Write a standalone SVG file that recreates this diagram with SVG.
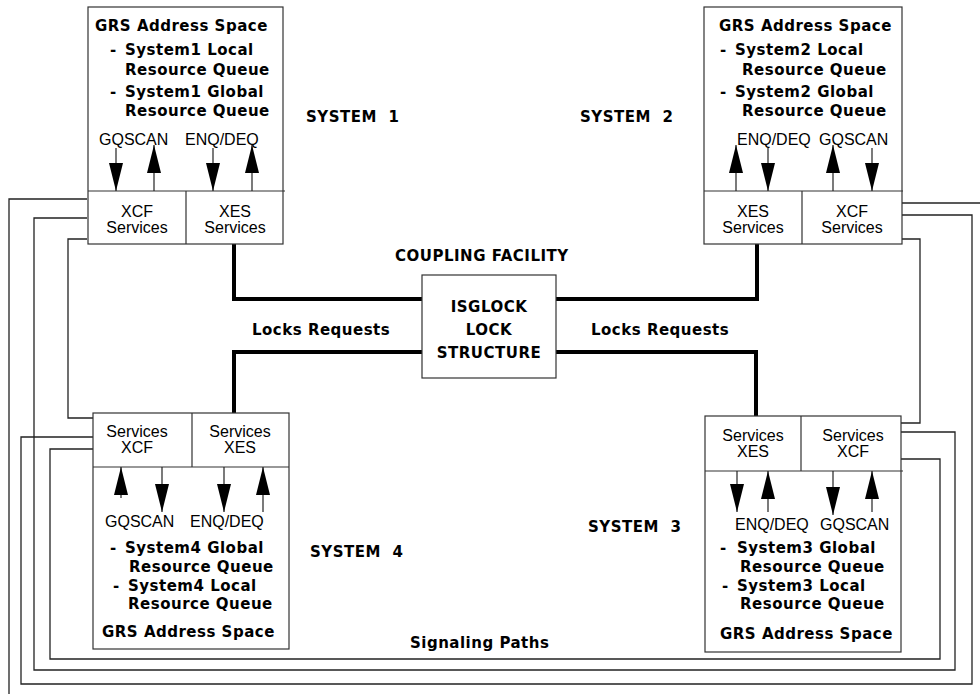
<svg xmlns="http://www.w3.org/2000/svg" width="980" height="694" viewBox="0 0 980 694">
<style>
.box{fill:#fff;stroke:#333;stroke-width:1.2}
.dv{stroke:#333;stroke-width:1.2;fill:none}
.b{font-family:"DejaVu Sans",sans-serif;font-weight:bold;font-size:15px;letter-spacing:0.5px;fill:#000}
.sy{word-spacing:6px}
.r{font-family:"Liberation Sans",Arial,sans-serif;font-size:16px;fill:#000}
.c{text-anchor:middle}
.arr{stroke:#222;stroke-width:1.2;fill:none;marker-end:url(#ah)}
.thick{stroke:#000;stroke-width:4;fill:none;stroke-linecap:round}
.sig{stroke:#222;stroke-width:1.3;fill:none}
</style>
<defs>
<marker id="ah" viewBox="0 0 28 14" markerWidth="28" markerHeight="14" refX="28" refY="7" orient="auto" markerUnits="userSpaceOnUse"><path d="M0,0 L28,7 L0,14 z" fill="#000"/></marker>
</defs>
<rect width="980" height="694" fill="#fff"/>
<g id="connectors">
<path class="sig" d="M87,199 H9 V694"/>
<path class="sig" d="M902,203 H980"/>
<path class="sig" d="M87,218 H34 V670 H955 V432 H901"/>
<path class="sig" d="M87,239 H68 V418 H93"/>
<path class="sig" d="M902,239 H920 V423 H901"/>
<path class="sig" d="M902,215 H972 V684 H21 V437 H93"/>
<path class="sig" d="M93,449 H50 V659 H940 V459 H901"/>
<path class="thick" d="M234,244 V299 H422"/>
<path class="thick" d="M757,244 V299 H556"/>
<path class="thick" d="M234,413 V352 H422"/>
<path class="thick" d="M756,416 V352 H556"/>
</g>
<g id="sys1">
<rect class="box" x="88" y="7" width="195" height="237"/>
<path class="dv" d="M88,191 H285 M186,191 V244"/>
<text class="b" x="95" y="31">GRS Address Space</text>
<text class="b" x="110" y="55">-</text><text class="b" x="125" y="55">System1 Local</text>
<text class="b" x="125" y="75">Resource Queue</text>
<text class="b" x="110" y="97">-</text><text class="b" x="125" y="97">System1 Global</text>
<text class="b" x="125" y="116">Resource Queue</text>
<text class="r" x="99" y="145">GQSCAN</text>
<text class="r" x="185" y="145">ENQ/DEQ</text>
<path class="arr" d="M116,148 V191"/>
<path class="arr" d="M154,191 V145"/>
<path class="arr" d="M213,148 V191"/>
<path class="arr" d="M252,191 V145"/>
<text class="r c" x="137" y="217">XCF</text><text class="r c" x="137" y="233">Services</text>
<text class="r c" x="235" y="217">XES</text><text class="r c" x="235" y="233">Services</text>
</g>
<g id="sys2">
<rect class="box" x="704" y="7" width="198" height="237"/>
<path class="dv" d="M704,191 H903 M802,191 V244"/>
<text class="b" x="719" y="31">GRS Address Space</text>
<text class="b" x="720" y="55">-</text><text class="b" x="735" y="55">System2 Local</text>
<text class="b" x="742" y="75">Resource Queue</text>
<text class="b" x="720" y="97">-</text><text class="b" x="735" y="97">System2 Global</text>
<text class="b" x="742" y="116">Resource Queue</text>
<text class="r" x="737" y="145">ENQ/DEQ</text>
<text class="r" x="819" y="145">GQSCAN</text>
<path class="arr" d="M736,191 V145"/>
<path class="arr" d="M768,148 V191"/>
<path class="arr" d="M833,191 V145"/>
<path class="arr" d="M872,148 V191"/>
<text class="r c" x="753" y="217">XES</text><text class="r c" x="753" y="233">Services</text>
<text class="r c" x="852" y="217">XCF</text><text class="r c" x="852" y="233">Services</text>
</g>
<g id="sys4">
<rect class="box" x="93" y="413" width="196" height="236"/>
<path class="dv" d="M93,467 H289 M192,413 V467"/>
<text class="r c" x="137" y="437">Services</text><text class="r c" x="137" y="453">XCF</text>
<text class="r c" x="240" y="437">Services</text><text class="r c" x="240" y="453">XES</text>
<path class="arr" d="M121,498 V467"/>
<path class="arr" d="M162,467 V512"/>
<path class="arr" d="M224,467 V512"/>
<path class="arr" d="M263,512 V467"/>
<text class="r" x="105" y="527">GQSCAN</text>
<text class="r" x="190" y="527">ENQ/DEQ</text>
<text class="b" x="110" y="553">-</text><text class="b" x="125" y="553">System4 Global</text>
<text class="b" x="129" y="572">Resource Queue</text>
<text class="b" x="113" y="591">-</text><text class="b" x="128" y="591">System4 Local</text>
<text class="b" x="128" y="609">Resource Queue</text>
<text class="b" x="102" y="637">GRS Address Space</text>
</g>
<g id="sys3">
<rect class="box" x="705" y="416" width="196" height="236"/>
<path class="dv" d="M705,471 H903 M801,416 V471"/>
<text class="r c" x="753" y="441">Services</text><text class="r c" x="753" y="457">XES</text>
<text class="r c" x="853" y="441">Services</text><text class="r c" x="853" y="457">XCF</text>
<path class="arr" d="M737,471 V512"/>
<path class="arr" d="M768,512 V471"/>
<path class="arr" d="M833,471 V515"/>
<path class="arr" d="M872,512 V471"/>
<text class="r" x="735" y="530">ENQ/DEQ</text>
<text class="r" x="820" y="530">GQSCAN</text>
<text class="b" x="720" y="553">-</text><text class="b" x="737" y="553">System3 Global</text>
<text class="b" x="740" y="572">Resource Queue</text>
<text class="b" x="722" y="591">-</text><text class="b" x="737" y="591">System3 Local</text>
<text class="b" x="740" y="609">Resource Queue</text>
<text class="b" x="720" y="639">GRS Address Space</text>
</g>
<g id="cf">
<text class="b" x="395" y="261">COUPLING FACILITY</text>
<rect class="box" x="422" y="275" width="134" height="103"/>
<text class="b c" x="489" y="312">ISGLOCK</text>
<text class="b c" x="489" y="335">LOCK</text>
<text class="b c" x="489" y="358">STRUCTURE</text>
</g>
<g id="labels">
<text class="b sy" x="306" y="122">SYSTEM 1</text>
<text class="b sy" x="580" y="122">SYSTEM 2</text>
<text class="b sy" x="588" y="532">SYSTEM 3</text>
<text class="b sy" x="310" y="557">SYSTEM 4</text>
<text class="b" x="252" y="335">Locks Requests</text>
<text class="b" x="591" y="335">Locks Requests</text>
<text class="b" x="410" y="648">Signaling Paths</text>
</g>
</svg>
